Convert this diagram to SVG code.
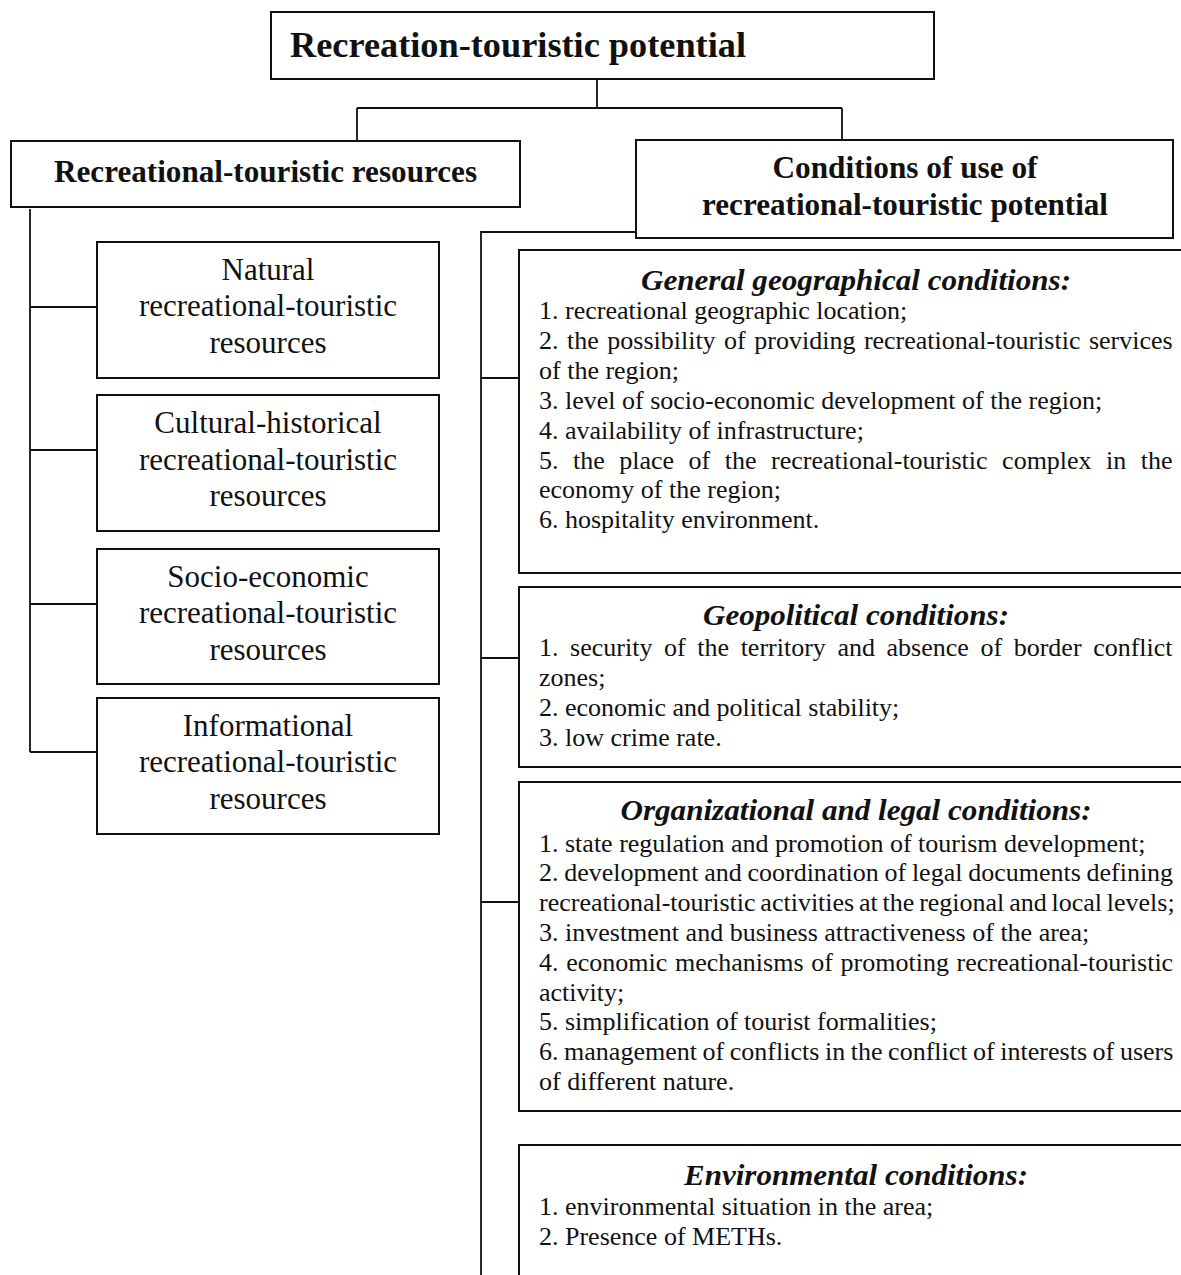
<svg xmlns="http://www.w3.org/2000/svg" width="1181" height="1275" viewBox="0 0 1181 1275">
<style>
  .box { fill: #fff; stroke: #111; stroke-width: 2; }
  .conn { fill: none; stroke: #111; stroke-width: 1.8; }
  .hb { font-family: "Liberation Serif", "Times New Roman", serif; font-weight: bold; fill: #111; }
  .lt { font-family: "Liberation Serif", "Times New Roman", serif; font-size: 31px; fill: #111; text-anchor: middle; }
  .ti { font-family: "Liberation Serif", "Times New Roman", serif; font-weight: bold; font-style: italic; font-size: 30px; fill: #111; text-anchor: middle; }
  .it { font-family: "Liberation Serif", "Times New Roman", serif; font-size: 26px; fill: #111; }
</style>
<rect width="1181" height="1275" fill="#fff"/>

<g id="connectors">
  <path class="conn" d="M597 79 V108 M357 108 H842 M357 108 V141 M842 108 V140"/>
  <path class="conn" d="M30 209 V752 M30 307 H97 M30 450 H97 M30 604 H97 M30 752 H97"/>
  <path class="conn" d="M636 232 H481 V1275 M481 378 H519 M481 658 H519 M481 902 H519"/>
</g>

<g id="node-potential">
  <rect class="box" x="271" y="12" width="663" height="67"/>
  <text class="hb" x="290" y="57" font-size="36" textLength="456" lengthAdjust="spacingAndGlyphs">Recreation-touristic potential</text>
</g>

<g id="node-resources">
  <rect class="box" x="11" y="141" width="509" height="66"/>
  <text class="hb" x="265.5" y="182" font-size="31" text-anchor="middle" textLength="423" lengthAdjust="spacingAndGlyphs">Recreational-touristic resources</text>
</g>

<g id="node-conditions">
  <rect class="box" x="636" y="140" width="537" height="98"/>
  <text class="hb" x="905" y="178" font-size="31" text-anchor="middle" textLength="265" lengthAdjust="spacingAndGlyphs">Conditions of use of</text>
  <text class="hb" x="905" y="215" font-size="31" text-anchor="middle" textLength="406" lengthAdjust="spacingAndGlyphs">recreational-touristic potential</text>
</g>

<g id="node-natural">
  <rect class="box" x="97" y="242" width="342" height="136"/>
  <text class="lt" x="268" y="280">Natural</text>
  <text class="lt" x="268" y="316">recreational-touristic</text>
  <text class="lt" x="268" y="353">resources</text>
</g>

<g id="node-cultural">
  <rect class="box" x="97" y="395" width="342" height="136"/>
  <text class="lt" x="268" y="433">Cultural-historical</text>
  <text class="lt" x="268" y="470">recreational-touristic</text>
  <text class="lt" x="268" y="506">resources</text>
</g>

<g id="node-socio">
  <rect class="box" x="97" y="549" width="342" height="135"/>
  <text class="lt" x="268" y="587">Socio-economic</text>
  <text class="lt" x="268" y="623">recreational-touristic</text>
  <text class="lt" x="268" y="660">resources</text>
</g>

<g id="node-informational">
  <rect class="box" x="97" y="698" width="342" height="136"/>
  <text class="lt" x="268" y="736">Informational</text>
  <text class="lt" x="268" y="772">recreational-touristic</text>
  <text class="lt" x="268" y="809">resources</text>
</g>

<g id="node-general">
  <rect class="box" x="519" y="250" width="680" height="323"/>
  <text class="ti" x="856" y="290" textLength="430" lengthAdjust="spacingAndGlyphs">General geographical conditions:</text>
  <text class="it" x="539" y="319">1. recreational geographic location;</text>
  <text class="it" x="539" y="349" word-spacing="2">2. the possibility of providing recreational-touristic services</text>
  <text class="it" x="539" y="379">of the region;</text>
  <text class="it" x="539" y="409">3. level of socio-economic development of the region;</text>
  <text class="it" x="539" y="439">4. availability of infrastructure;</text>
  <text class="it" x="539" y="469" word-spacing="8">5. the place of the recreational-touristic complex in the</text>
  <text class="it" x="539" y="498">economy of the region;</text>
  <text class="it" x="539" y="528">6. hospitality environment.</text>
</g>

<g id="node-geopolitical">
  <rect class="box" x="519" y="587" width="680" height="180"/>
  <text class="ti" x="856" y="625" textLength="306" lengthAdjust="spacingAndGlyphs">Geopolitical conditions:</text>
  <text class="it" x="539" y="656" word-spacing="5.1">1. security of the territory and absence of border conflict</text>
  <text class="it" x="539" y="686">zones;</text>
  <text class="it" x="539" y="716">2. economic and political stability;</text>
  <text class="it" x="539" y="746">3. low crime rate.</text>
</g>

<g id="node-organizational">
  <rect class="box" x="519" y="782" width="680" height="329"/>
  <text class="ti" x="856" y="820" textLength="471" lengthAdjust="spacingAndGlyphs">Organizational and legal conditions:</text>
  <text class="it" x="539" y="852">1. state regulation and promotion of tourism development;</text>
  <text class="it" x="539" y="881" word-spacing="-0.8">2. development and coordination of legal documents defining</text>
  <text class="it" x="539" y="911" word-spacing="-1.7">recreational-touristic activities at the regional and local levels;</text>
  <text class="it" x="539" y="941">3. investment and business attractiveness of the area;</text>
  <text class="it" x="539" y="971" word-spacing="1.2">4. economic mechanisms of promoting recreational-touristic</text>
  <text class="it" x="539" y="1001">activity;</text>
  <text class="it" x="539" y="1030">5. simplification of tourist formalities;</text>
  <text class="it" x="539" y="1060" word-spacing="-0.9">6. management of conflicts in the conflict of interests of users</text>
  <text class="it" x="539" y="1090">of different nature.</text>
</g>

<g id="node-environmental">
  <rect class="box" x="519" y="1145" width="680" height="160"/>
  <text class="ti" x="856" y="1185" textLength="344" lengthAdjust="spacingAndGlyphs">Environmental conditions:</text>
  <text class="it" x="539" y="1215">1. environmental situation in the area;</text>
  <text class="it" x="539" y="1245">2. Presence of METHs.</text>
</g>
</svg>
